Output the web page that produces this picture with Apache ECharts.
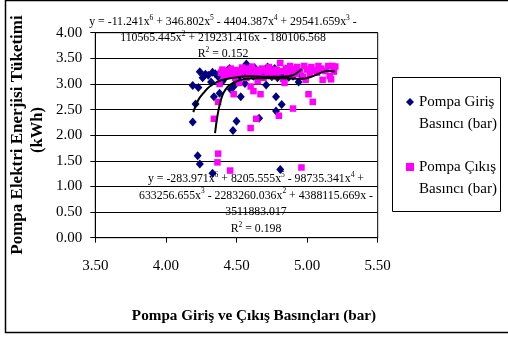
<!DOCTYPE html>
<html><head><meta charset="utf-8">
<script src="https://cdn.jsdelivr.net/npm/echarts@6/dist/echarts.min.js"></script>
<style>html,body{margin:0;padding:0;background:#fff}#c{width:508px;height:340px}</style>
</head><body><div id="c"></div>
<script>
const seriesNames = ['Pompa Giriş\nBasıncı (bar)', 'Pompa Çıkış\nBasıncı (bar)'];
const xTitle = 'Pompa Giriş ve Çıkış Basınçları (bar)';
const yTitle = ['Pompa Elektri Enerjisi Tüketimi', '(kWh)'];
const xTicks = [3.5, 4.0, 4.5, 5.0, 5.5];
const yTicks = [0, 0.5, 1.0, 1.5, 2.0, 2.5, 3.0, 3.5, 4.0];

const girisPoints = [
 [4.19,2.26],[4.21,2.61],[4.19,2.97],[4.23,2.93],[4.24,3.24],[4.26,3.12],[4.27,3.16],[4.28,3.19],
 [4.30,3.17],[4.32,3.04],[4.33,3.23],[4.34,2.75],[4.35,3.20],[4.37,3.14],[4.38,2.82],[4.38,3.21],
 [4.40,3.05],[4.41,3.22],[4.42,3.12],[4.44,3.27],[4.45,3.30],[4.46,2.89],[4.47,3.18],[4.48,2.95],
 [4.49,3.00],[4.50,3.24],[4.51,3.10],[4.53,2.75],[4.53,3.26],[4.55,3.18],[4.56,3.01],[4.57,3.39],
 [4.58,3.22],[4.60,3.28],[4.62,3.15],[4.63,3.31],[4.65,3.20],[4.66,2.33],[4.67,3.26],[4.69,3.17],
 [4.71,2.98],[4.72,3.33],[4.74,3.22],[4.75,3.14],[4.77,3.30],[4.78,2.75],[4.78,2.47],[4.79,3.12],
 [4.80,3.25],[4.81,1.33],[4.82,2.60],[4.83,3.18],[4.85,3.29],[4.87,3.13],[4.88,3.24],[4.90,3.15],
 [4.92,3.31],[4.94,3.04],[4.95,3.20],[4.475,2.09],[4.50,2.27],[4.225,1.60],[4.24,1.44],[4.33,1.26]
];
const cikisPoints = [
 [4.34,2.32],[4.37,2.65],[4.37,1.64],[4.365,1.47],[4.455,1.31],[4.38,3.00],[4.39,3.22],[4.40,3.28],
 [4.41,3.15],[4.43,3.25],[4.45,3.18],[4.46,3.30],[4.48,2.80],[4.48,3.22],[4.49,3.12],[4.50,3.27],
 [4.52,3.02],[4.53,3.20],[4.54,3.32],[4.56,3.25],[4.57,3.12],[4.58,3.30],[4.59,3.22],[4.60,2.95],
 [4.60,2.14],[4.61,3.34],[4.62,2.86],[4.62,3.18],[4.64,2.32],[4.64,3.27],[4.65,3.05],[4.66,3.22],
 [4.67,2.80],[4.68,3.30],[4.69,3.12],[4.70,3.26],[4.72,3.20],[4.73,3.33],[4.75,3.24],[4.76,3.15],
 [4.78,3.28],[4.79,3.20],[4.80,2.38],[4.81,3.41],[4.82,3.25],[4.83,3.10],[4.84,3.02],[4.85,3.30],
 [4.86,3.22],[4.88,3.35],[4.89,3.16],[4.90,2.52],[4.90,3.28],[4.92,3.20],[4.93,3.33],[4.95,3.25],
 [4.96,1.37],[4.97,3.14],[4.98,3.35],[4.99,3.08],[5.00,3.28],[5.01,2.80],[5.02,3.20],[5.03,3.33],
 [5.04,2.65],[5.05,3.26],[5.07,3.22],[5.08,3.35],[5.10,3.30],[5.11,3.08],[5.13,3.25],[5.15,3.35],
 [5.16,3.15],[5.17,3.09],[5.18,3.35],[5.19,3.24],[5.20,3.34]
];
const girisTrend = [
 [4.194,2.45],[4.23,2.69],[4.265,2.82],[4.31,2.95],[4.38,3.06],[4.48,3.12],[4.60,3.15],
 [4.71,3.14],[4.83,3.14],[4.90,3.17],[4.94,3.24],[4.96,3.29]
];
const cikisTrend = [
 [4.348,2.04],[4.364,2.36],[4.383,2.62],[4.407,2.82],[4.44,2.95],[4.477,3.02],[4.55,3.09],
 [4.666,3.11],[4.83,3.11],[4.95,3.10],[5.02,3.13],[5.09,3.21],[5.15,3.26],[5.198,3.24]
];
const eq1Text = 'y = -11.241x{s|6} + 346.802x{s|5} - 4404.387x{s|4} + 29541.659x{s|3} -\n110565.445x{s|2} + 219231.416x - 180106.568\nR{s|2} = 0.152';
const eq2Text = 'y = -283.971x{s|6} + 8205.555x{s|5} - 98735.341x{s|4} +\n633256.655x{s|3} - 2283260.036x{s|2} + 4388115.669x -\n3511883.017\nR{s|2} = 0.198';

const FONT = '"Liberation Serif", "Times New Roman", serif';
const chart = echarts.init(document.getElementById('c'), null, {renderer: 'canvas'});
const eqStyle = (txt, lh) => ({
  text: txt, fill: '#000', fontFamily: FONT, fontSize: 11.8, lineHeight: lh,
  align: 'center', verticalAlign: 'middle',
  rich: { s: { fontFamily: FONT, fontSize: 7.5, lineHeight: lh, verticalAlign: 'top', fill: '#000' } }
});
chart.setOption({
  animation: false,
  backgroundColor: '#fff',
  grid: { left: 95.3, top: 32.7, width: 282.4, height: 205, show: true, borderColor: '#000', borderWidth: 1, backgroundColor: 'transparent' },
  xAxis: {
    type: 'value', min: xTicks[0], max: xTicks[xTicks.length - 1], interval: 0.5,
    axisLine: { show: true, onZero: false, lineStyle: { color: '#000', width: 1 } },
    axisTick: { show: true, length: 5, lineStyle: { color: '#000' } },
    splitLine: { show: false },
    axisLabel: { margin: 21, color: '#000', fontFamily: FONT, fontSize: 15, formatter: v => v.toFixed(2) }
  },
  yAxis: {
    type: 'value', min: yTicks[0], max: yTicks[yTicks.length - 1], interval: 0.5,
    axisLine: { show: true, lineStyle: { color: '#000', width: 1 } },
    axisTick: { show: true, length: 5, lineStyle: { color: '#000' } },
    splitLine: { show: true, lineStyle: { color: '#000', width: 1 } },
    axisLabel: { margin: 13, color: '#000', fontFamily: FONT, fontSize: 15, formatter: v => v.toFixed(2) }
  },
  legend: {
    orient: 'vertical', left: 406, top: 69, padding: 0, itemGap: -1,
    itemWidth: 8, itemHeight: 8, selectedMode: false,
    data: [{ name: seriesNames[0], icon: 'diamond' }, { name: seriesNames[1], icon: 'rect' }],
    formatter: name => '\n' + name,
    textStyle: { fontFamily: FONT, fontSize: 15, color: '#000', lineHeight: 22 }
  },
  series: [
    { name: seriesNames[0], type: 'scatter', symbol: 'diamond', symbolSize: [8, 9], data: girisPoints,
      itemStyle: { color: '#000080', opacity: 1 }, z: 2 },
    { name: seriesNames[1], type: 'scatter', symbol: 'rect', symbolSize: 6.5, data: cikisPoints,
      itemStyle: { color: '#FF00FF', opacity: 1 }, z: 3 },
    { name: 'trend1', type: 'line', data: girisTrend, smooth: 0.4, showSymbol: false, silent: true,
      lineStyle: { color: '#000', width: 2 }, z: 4 },
    { name: 'trend2', type: 'line', data: cikisTrend, smooth: 0.4, showSymbol: false, silent: true,
      lineStyle: { color: '#000', width: 2 }, z: 4 }
  ],
  graphic: [
    { type: 'rect', shape: { x: 5.5, y: 0.5, width: 510, height: 332 }, style: { fill: 'none', stroke: '#000', lineWidth: 1.5 }, z: 0, silent: true },
    { type: 'rect', shape: { x: 392.5, y: 77.5, width: 108, height: 134 }, style: { fill: 'none', stroke: '#000', lineWidth: 1 }, silent: true },
    { type: 'text', x: 18, y: 135, rotation: Math.PI / 2, style: { text: yTitle[0], fontFamily: FONT, fontSize: 17, fontWeight: 'bold', fill: '#000', align: 'center', verticalAlign: 'middle' } },
    { type: 'text', x: 38, y: 130, rotation: Math.PI / 2, style: { text: yTitle[1], fontFamily: FONT, fontSize: 16.5, fontWeight: 'bold', fill: '#000', align: 'center', verticalAlign: 'middle' } },
    { type: 'text', x: 254, y: 316, style: { text: xTitle, fontFamily: FONT, fontSize: 15.2, fontWeight: 'bold', fill: '#000', align: 'center', verticalAlign: 'middle' } },
    { type: 'text', x: 223, y: 38, z: 10, style: eqStyle(eq1Text, 16) },
    { type: 'text', x: 256, y: 204, z: 10, style: eqStyle(eq2Text, 16.7) }
  ]
});
</script></body></html>
